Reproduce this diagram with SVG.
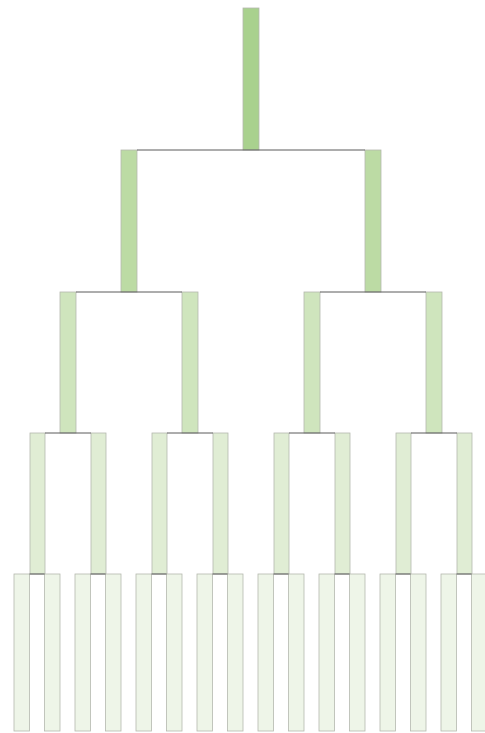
<svg xmlns="http://www.w3.org/2000/svg" width="485" height="733" viewBox="0 0 485 733">
<style>
.n rect{stroke:#b4b8ae;stroke-width:0.8}
.l0{fill:#a9d18e}
.l1{fill:#bcdba4}
.l2{fill:#cfe5bd}
.l3{fill:#e0edd4}
.l4{fill:#eef5e8}
.c line{stroke:#5a5a5a;stroke-width:1}
</style>
<rect x="0" y="0" width="485" height="733" fill="#ffffff"/>
<g id="nodes" class="n">
<g id="n0"><rect class="l0" x="243" y="8" width="16" height="142"/></g>
<g id="n1a"><rect class="l1" x="121" y="150" width="16" height="142"/></g>
<g id="n1b"><rect class="l1" x="365" y="150" width="16" height="142"/></g>
<g id="n2a"><rect class="l2" x="60" y="292" width="16" height="141"/></g>
<g id="n2b"><rect class="l2" x="182" y="292" width="16" height="141"/></g>
<g id="n2c"><rect class="l2" x="304" y="292" width="16" height="141"/></g>
<g id="n2d"><rect class="l2" x="426" y="292" width="16" height="141"/></g>
<g id="n3a"><rect class="l3" x="30" y="433" width="15" height="141"/></g>
<g id="n3b"><rect class="l3" x="91" y="433" width="15" height="141"/></g>
<g id="n3c"><rect class="l3" x="152" y="433" width="15" height="141"/></g>
<g id="n3d"><rect class="l3" x="213" y="433" width="15" height="141"/></g>
<g id="n3e"><rect class="l3" x="274" y="433" width="15" height="141"/></g>
<g id="n3f"><rect class="l3" x="335" y="433" width="15" height="141"/></g>
<g id="n3g"><rect class="l3" x="396" y="433" width="15" height="141"/></g>
<g id="n3h"><rect class="l3" x="457" y="433" width="15" height="141"/></g>
<g id="n4a"><rect class="l4" x="14" y="574" width="15.5" height="157"/></g>
<g id="n4b"><rect class="l4" x="44.5" y="574" width="15.5" height="157"/></g>
<g id="n4c"><rect class="l4" x="75" y="574" width="15.5" height="157"/></g>
<g id="n4d"><rect class="l4" x="105.5" y="574" width="15.5" height="157"/></g>
<g id="n4e"><rect class="l4" x="136" y="574" width="15.5" height="157"/></g>
<g id="n4f"><rect class="l4" x="166.5" y="574" width="15.5" height="157"/></g>
<g id="n4g"><rect class="l4" x="197" y="574" width="15.5" height="157"/></g>
<g id="n4h"><rect class="l4" x="227.5" y="574" width="15.5" height="157"/></g>
<g id="n4i"><rect class="l4" x="258" y="574" width="15.5" height="157"/></g>
<g id="n4j"><rect class="l4" x="288.5" y="574" width="15.5" height="157"/></g>
<g id="n4k"><rect class="l4" x="319" y="574" width="15.5" height="157"/></g>
<g id="n4l"><rect class="l4" x="349.5" y="574" width="15.5" height="157"/></g>
<g id="n4m"><rect class="l4" x="380" y="574" width="15.5" height="157"/></g>
<g id="n4n"><rect class="l4" x="410.5" y="574" width="15.5" height="157"/></g>
<g id="n4o"><rect class="l4" x="441" y="574" width="15.5" height="157"/></g>
<g id="n4p"><rect class="l4" x="471.5" y="574" width="15.5" height="157"/></g>
</g>
<g id="connectors" class="c">
<line x1="137" y1="150" x2="365" y2="150"/>
<line x1="76" y1="292" x2="182" y2="292"/>
<line x1="320" y1="292" x2="426" y2="292"/>
<line x1="45" y1="433" x2="91" y2="433"/>
<line x1="167" y1="433" x2="213" y2="433"/>
<line x1="289" y1="433" x2="335" y2="433"/>
<line x1="411" y1="433" x2="457" y2="433"/>
<line x1="29.5" y1="574" x2="44.5" y2="574"/>
<line x1="90.5" y1="574" x2="105.5" y2="574"/>
<line x1="151.5" y1="574" x2="166.5" y2="574"/>
<line x1="212.5" y1="574" x2="227.5" y2="574"/>
<line x1="273.5" y1="574" x2="288.5" y2="574"/>
<line x1="334.5" y1="574" x2="349.5" y2="574"/>
<line x1="395.5" y1="574" x2="410.5" y2="574"/>
<line x1="456.5" y1="574" x2="471.5" y2="574"/>
</g>
</svg>
